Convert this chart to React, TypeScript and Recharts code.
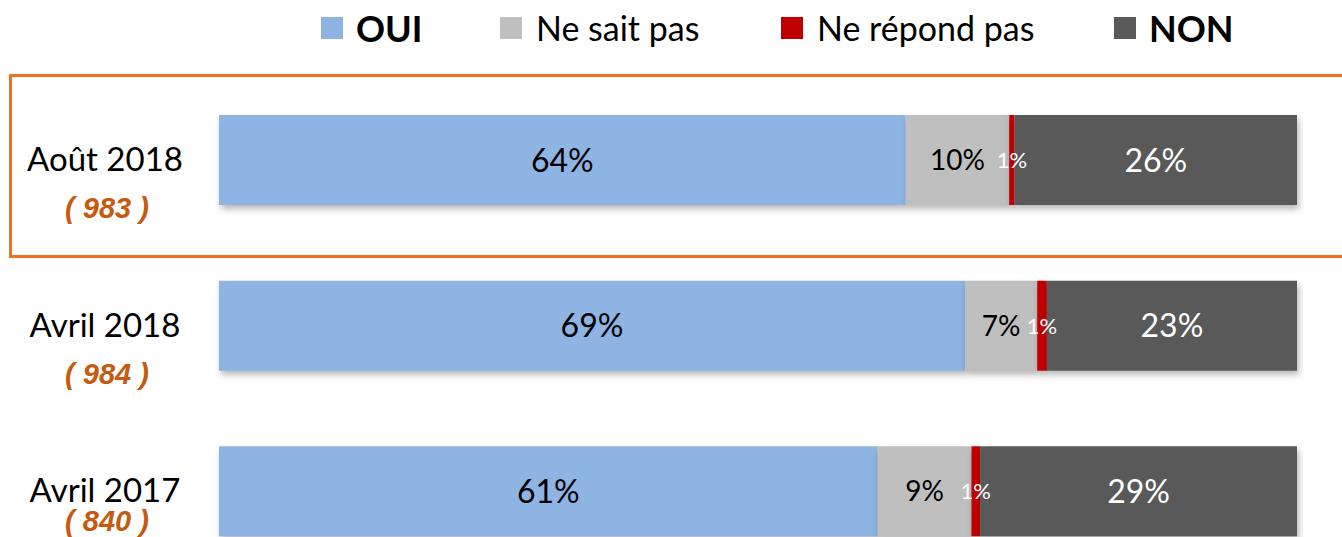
import React from 'react';
import { BarChart, Bar, XAxis, YAxis, LabelList } from 'recharts';

// survey waves, top to bottom
const periods = ['Août 2018', 'Avril 2018', 'Avril 2017'];
const sampleSizes = ['( 983 )', '( 984 )', '( 840 )'];

// shares in %
const oui = [63.7, 69.2, 61.1];
const nsp = [9.6, 6.7, 8.7];
const nrp = [0.5, 0.9, 0.8];
const non = [26.2, 23.2, 29.4];

const data = periods.map((p, i) => ({
  period: p,
  n: sampleSizes[i],
  oui: oui[i],
  nsp: nsp[i],
  nrp: nrp[i],
  non: non[i],
}));

const legendItems = [
  { key: 'oui', label: 'OUI', color: '#8EB4E3', bold: true },
  { key: 'nsp', label: 'Ne sait pas', color: '#BFBFBF', bold: false },
  { key: 'nrp', label: 'Ne répond pas', color: '#C00000', bold: false },
  { key: 'non', label: 'NON', color: '#595959', bold: true },
];

const FONT = 'Lato, "Open Sans", sans-serif';

const PeriodTick = (props: any) => {
  const { y, payload, index } = props;
  const row = data[index] || data.find((d) => d.period === payload.value);
  const dy = index === 2 ? 30 : 48;
  return (
    <g>
      <text x={105} y={y} dy={11} textAnchor="middle" fontFamily={FONT} fontSize={33} fill="#000">
        {payload.value}
      </text>
      <text
        x={107}
        y={y + dy}
        dy={10}
        textAnchor="middle"
        fontFamily="Arial, 'Liberation Sans', sans-serif"
        fontSize={29}
        fontWeight="bold"
        fontStyle="italic"
        fill="#C55A11"
      >
        {row ? row.n : ''}
      </text>
    </g>
  );
};

const makeLabel = (color: string, size: number) => (props: any) => {
  const { x, y, width, height, value } = props;
  return (
    <text
      x={x + width / 2}
      y={y + height / 2}
      dy={size * 0.36}
      textAnchor="middle"
      fontFamily={FONT}
      fontSize={size}
      fill={color}
    >
      {Math.round(value)}%
    </text>
  );
};

export default function App() {
  return (
    <div style={{ position: 'absolute', left: 0, top: 0, width: 1342, height: 537, overflow: 'hidden', background: '#fff' }}>
      <style>{`.recharts-bar-rectangles { filter: drop-shadow(2px 4px 3px rgba(0,0,0,0.28)); }`}</style>

      {/* legend */}
      <div style={{ position: 'absolute', top: 8, left: 0, width: 1342, height: 40, fontFamily: FONT }}>
        {legendItems.map((it, i) => {
          const lefts = [321, 500, 781, 1114];
          return (
            <div key={it.key} style={{ position: 'absolute', left: lefts[i], top: 0, display: 'flex', alignItems: 'center', height: 40 }}>
              <div style={{ width: 22, height: 22, background: it.color, marginRight: it.bold ? 13 : 14 }} />
              <span style={{ fontSize: it.bold ? 36 : 34, fontWeight: it.bold ? 700 : 400, color: '#000', lineHeight: '40px' }}>
                {it.label}
              </span>
            </div>
          );
        })}
      </div>

      {/* highlight frame around latest wave */}
      <div style={{ position: 'absolute', left: 9, top: 74, width: 1360, height: 178, border: '3px solid #F37021' }} />

      <div style={{ position: 'absolute', left: 0, top: 0 }}>
        <BarChart
          layout="vertical"
          width={1342}
          height={580}
          data={data}
          margin={{ top: 77, right: 45, bottom: 6, left: 0 }}
          barSize={90}
        >
          <XAxis type="number" domain={[0, 100]} hide />
          <YAxis
            type="category"
            dataKey="period"
            width={219}
            axisLine={false}
            tickLine={false}
            tick={<PeriodTick />}
          />
          <Bar dataKey="oui" stackId="a" fill="#8EB4E3" isAnimationActive={false}>
            <LabelList dataKey="oui" content={makeLabel('#000', 32)} />
          </Bar>
          <Bar dataKey="nsp" stackId="a" fill="#BFBFBF" isAnimationActive={false}>
            <LabelList dataKey="nsp" content={makeLabel('#000', 28)} />
          </Bar>
          <Bar dataKey="nrp" stackId="a" fill="#C00000" isAnimationActive={false}>
            <LabelList dataKey="nrp" content={makeLabel('#fff', 22)} />
          </Bar>
          <Bar dataKey="non" stackId="a" fill="#595959" isAnimationActive={false}>
            <LabelList dataKey="non" content={makeLabel('#fff', 32)} />
          </Bar>
        </BarChart>
      </div>
    </div>
  );
}
